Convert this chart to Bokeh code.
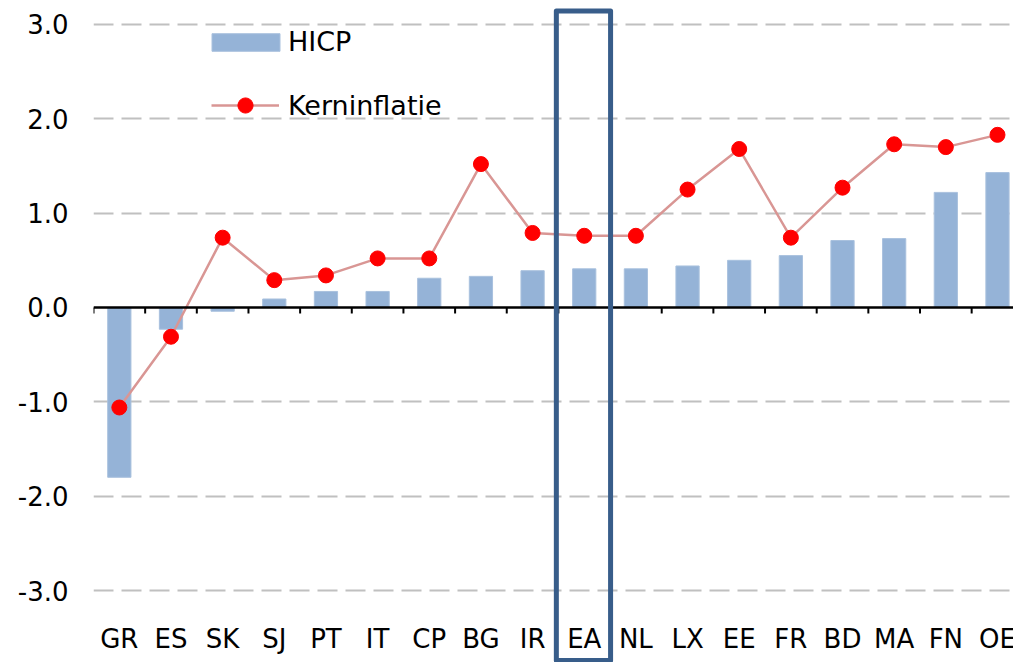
import numpy as np
from bokeh.plotting import figure
from bokeh.models import Range1d, FixedTicker, Span, Legend, LegendItem
from bokeh.core.properties import value
from bokeh.embed import file_html
from bokeh.resources import INLINE

# ---- data ----
categories = ["GR", "ES", "SK", "SJ", "PT", "IT", "CP", "BG", "IR",
              "EA", "NL", "LX", "EE", "FR", "BD", "MA", "FN", "OE"]
hicp = [-1.80, -0.23, -0.04, 0.09, 0.17, 0.17, 0.31, 0.33, 0.39,
        0.41, 0.41, 0.44, 0.50, 0.55, 0.71, 0.73, 1.22, 1.43]
kerninflatie = [-1.06, -0.31, 0.74, 0.29, 0.34, 0.52, 0.52, 1.52, 0.79,
                0.76, 0.76, 1.25, 1.68, 0.74, 1.27, 1.73, 1.70, 1.83]
y_ticks = [-3, -2, -1, 0, 1, 2, 3]
y_tick_labels = ["-3.0", "-2.0", "-1.0", "0.0", "1.0", "2.0", "3.0"]
highlight = "EA"
series_names = ["HICP", "Kerninflatie"]

FONT = "DejaVu Sans"
xs = list(range(len(categories)))

W, H = 1013, 662
Y0, Y1 = -3.763, 3.254
p = figure(width=W, height=H,
           x_range=Range1d(-0.5, 17.31), y_range=Range1d(Y0, Y1),
           x_axis_location=None, output_backend="svg", toolbar_location=None,
           min_border_left=93, min_border_right=0, min_border_top=0, min_border_bottom=0)
p.outline_line_color = None
p.background_fill_color = "white"
p.xgrid.grid_line_color = None

# y axis
p.yaxis.ticker = FixedTicker(ticks=y_ticks)
p.yaxis.major_label_overrides = {t: l for t, l in zip(y_ticks, y_tick_labels)}
p.yaxis.axis_line_color = None
p.yaxis.major_tick_line_color = None
p.yaxis.minor_tick_line_color = None
p.yaxis.major_tick_out = 0
p.yaxis.major_tick_in = 0
p.yaxis.major_label_standoff = 25
p.yaxis.major_label_text_font = FONT
p.yaxis.major_label_text_font_size = "26px"
p.yaxis.major_label_text_color = "black"

# grid
p.ygrid.ticker = FixedTicker(ticks=[t for t in y_ticks if t != 0])
p.ygrid.grid_line_color = "#C0C0C0"
p.ygrid.grid_line_width = 2
p.ygrid.grid_line_dash = "20 8"

# bars
bars = p.vbar(x=xs, top=hicp, bottom=0, width=0.45,
              fill_color="#95B3D7", line_color="#A9C1DE", line_width=1)

# zero axis line + category boundary ticks
p.add_layout(Span(location=0, dimension="width", line_color="black", line_width=2.5))
px_per_unit = H / (Y1 - Y0)
bounds = [x - 0.5 for x in xs]
p.segment(x0=bounds, x1=bounds, y0=[0] * len(bounds),
          y1=[-6 / px_per_unit] * len(bounds), line_color="black", line_width=2)

# core inflation line
ln = p.line(xs, kerninflatie, line_color="#D99694", line_width=2.5)
mk = p.scatter(xs, kerninflatie, size=15, fill_color="#FF0000", line_color="#FF0000", line_width=1)

# category labels
p.text(x=xs, y=[-3.519] * len(xs), text=categories, text_align="center",
       text_baseline="alphabetic", text_font=value(FONT), text_font_size="26px",
       text_color="black")

# highlight box around EA
hi = categories.index(highlight)
p.quad(left=[hi - 0.54], right=[hi + 0.51], top=[3.143], bottom=[-3.742],
       fill_color=None, line_color="#385D8A", line_width=5, line_join="round",
       level="overlay")

common = dict(orientation="vertical", padding=0, margin=0, spacing=0,
              label_text_font=FONT, label_text_font_size="27px",
              label_text_color="black",
              border_line_color=None, background_fill_alpha=0)
leg1 = Legend(items=[LegendItem(label=series_names[0], renderers=[bars])],
              location=(110, 605), glyph_width=85, glyph_height=22,
              label_standoff=0, **common)
leg2 = Legend(items=[LegendItem(label=series_names[1], renderers=[ln, mk])],
              location=(118, 538), glyph_width=68, glyph_height=38,
              label_standoff=9, **common)
p.add_layout(leg1, "center")
p.add_layout(leg2, "center")

open("out.html", "w").write(file_html(p, INLINE))
